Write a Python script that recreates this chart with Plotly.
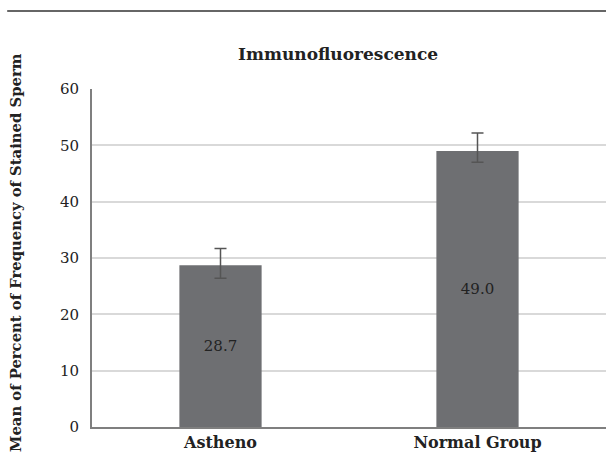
import plotly.graph_objects as go

# Immunofluorescence staining: mean percent of stained sperm per group
groups = ["Astheno", "Normal Group"]
means = [28.7, 49.0]
err_plus = [3.0, 3.2]
err_minus = [2.3, 2.0]
y_ticks = [0, 10, 20, 30, 40, 50, 60]

SERIF = "DejaVu Serif"
BAR_GRAY = "#6e6f72"

fig = go.Figure()
fig.add_trace(go.Bar(
    x=groups,
    y=means,
    marker=dict(color=BAR_GRAY, line=dict(width=0)),
    text=[f"{v:.1f}" for v in means],
    textposition="inside",
    insidetextanchor="middle",
    textfont=dict(family=SERIF, size=15, color="#222222"),
    error_y=dict(type="data", symmetric=False, array=err_plus, arrayminus=err_minus,
                 color="#555555", thickness=1.5, width=6),
    cliponaxis=False,
))

fig.update_layout(
    width=606, height=454,
    margin=dict(l=92, r=0, t=89, b=27),
    paper_bgcolor="white", plot_bgcolor="white",
    showlegend=False,
    bargap=0.68,
    font=dict(family=SERIF, color="#222222"),
    xaxis=dict(
        showline=True, linecolor="#7f7f7f", linewidth=2,
        showgrid=False, ticks="",
        tickfont=dict(family=SERIF, size=16, color="#222222"),
        tickvals=groups, ticktext=[f"<b>{g}</b>" for g in groups],
    ),
    yaxis=dict(
        range=[0, 60], tickvals=y_ticks,
        showline=True, linecolor="#7f7f7f", linewidth=2,
        showgrid=True, gridcolor="#d9d9d9", gridwidth=1.5,
        zeroline=False, ticks="",
        ticklabelstandoff=8,
        tickfont=dict(family=SERIF, size=15, color="#222222"),
    ),
    shapes=[dict(type="line", xref="paper", yref="paper",
                 x0=-0.165, x1=1.0, y0=1.2308, y1=1.2308,
                 line=dict(color="#333333", width=1.5))],
    annotations=[
        dict(text="<b>Immunofluorescence</b>", xref="paper", yref="paper",
             x=0.479, y=(427 - 54) / 338, xanchor="center", yanchor="middle",
             showarrow=False,
             font=dict(family=SERIF, size=17, color="#222222")),
        dict(text="<b>Mean of Percent of Frequency of Stained Sperm</b>",
             xref="paper", yref="paper", textangle=-90,
             x=(15 - 92) / 514, y=(427 - 253) / 338,
             xanchor="center", yanchor="middle", showarrow=False,
             font=dict(family=SERIF, size=14.8, color="#222222")),
    ],
)

fig.write_html("out.html")
